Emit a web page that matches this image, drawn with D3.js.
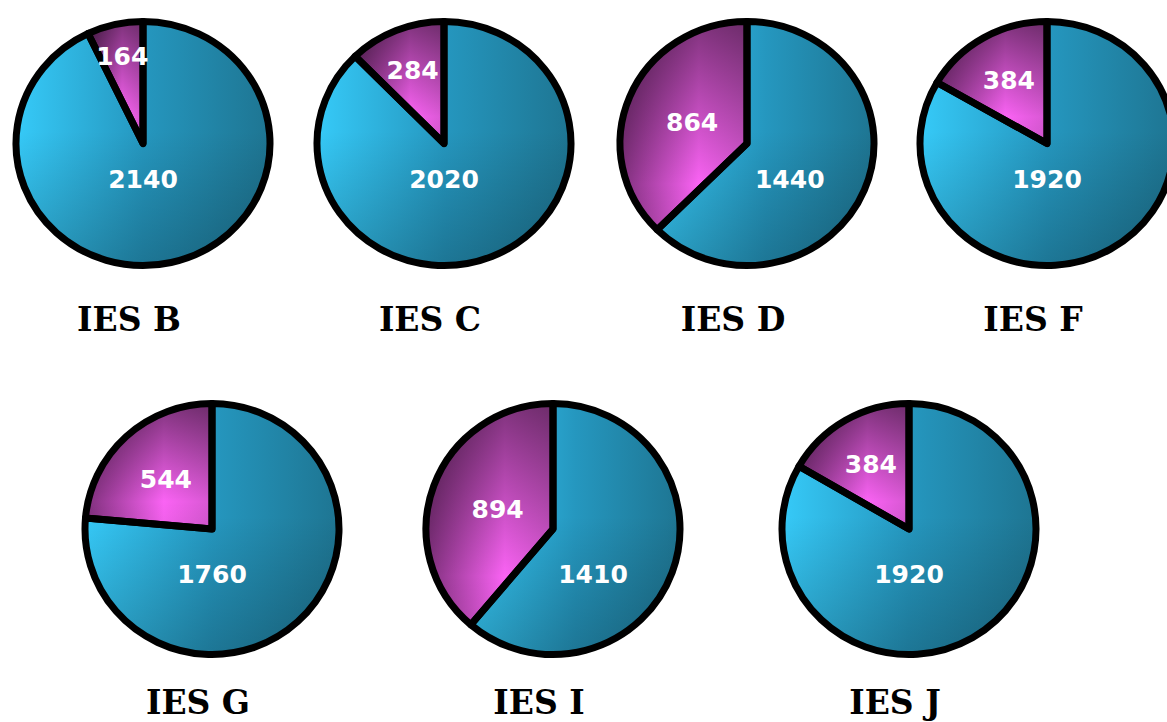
<!DOCTYPE html>
<html>
<head>
<meta charset="utf-8">
<script src="https://cdn.jsdelivr.net/npm/d3@7"></script>
<style>
  html, body { margin: 0; padding: 0; background: #ffffff; }
  svg { display: block; }
</style>
</head>
<body>
<div id="chart"></div>
<script>
// ---- data ----
const names = ["IES B", "IES C", "IES D", "IES F", "IES G", "IES I", "IES J"];
const blueValues = [2140, 2020, 1440, 1920, 1760, 1410, 1920];
const pinkValues = [164, 284, 864, 384, 544, 894, 384];

// ---- layout ----
const W = 1167, H = 722;
const R = 127;                         // base radius of arcs
const rows = [
  { idx: [0, 1, 2, 3], xs: [143, 444, 747, 1047], cy: 143.5, rx: 127, ry: 122, labelDy: 35, titleY: 331 },
  { idx: [4, 5, 6],    xs: [212, 553, 909],       cy: 529,   rx: 127, ry: 125.5, labelDy: 45, titleY: 714 }
];
const titleDx = -14;

const svg = d3.select("#chart").append("svg")
  .attr("width", W).attr("height", H)
  .attr("viewBox", `0 0 ${W} ${H}`);

const defs = svg.append("defs");
function lin(id, dir, stops) {
  const g = defs.append("linearGradient").attr("id", id)
    .attr("x1", 0).attr("y1", 0)
    .attr("x2", dir === "h" ? 1 : 0).attr("y2", dir === "h" ? 0 : 1);
  stops.forEach(s => g.append("stop").attr("offset", s[0])
    .attr("stop-color", s[1]).attr("stop-opacity", s[2] === undefined ? 1 : s[2]));
}
lin("blueH", "h", [[0, "#36CAF8"], [0.5, "#2597BF"], [1, "#1E7592"]]);
lin("blueV", "v", [[0, "#000", 0], [0.45, "#000", 0], [1, "#000", 0.22]]);
lin("pinkH", "h", [[0, "#7E2F7B"], [0.62, "#FA63F4"], [1, "#D757D2"]]);
lin("pinkV", "v", [[0, "#000", 0.5], [0.78, "#000", 0], [1, "#000", 0.05]]);

const pie = d3.pie().sort(null).value(d => d.value);
const arc = d3.arc().innerRadius(0).outerRadius(R);

rows.forEach(row => {
  row.idx.forEach((i, k) => {
    const cx = row.xs[k], cy = row.cy;
    const sx = row.rx / R, sy = row.ry / R;
    const data = [
      { key: "blue", value: blueValues[i] },
      { key: "pink", value: pinkValues[i] }
    ];
    const arcs = pie(data);
    const g = svg.append("g").attr("transform", `translate(${cx},${cy})`);
    const gs = g.append("g").attr("transform", `scale(${sx},${sy})`);

    gs.selectAll("path.base").data(arcs).join("path")
      .attr("class", "base")
      .attr("d", arc)
      .attr("fill", d => d.data.key === "blue" ? "url(#blueH)" : "url(#pinkH)");
    gs.selectAll("path.shade").data(arcs).join("path")
      .attr("class", "shade")
      .attr("d", arc)
      .attr("fill", d => d.data.key === "blue" ? "url(#blueV)" : "url(#pinkV)");
    gs.selectAll("path.edge").data(arcs).join("path")
      .attr("class", "edge")
      .attr("d", arc)
      .attr("fill", "none")
      .attr("stroke", "#000")
      .attr("stroke-width", 7)
      .attr("stroke-linejoin", "round")
      .attr("vector-effect", "non-scaling-stroke");

    // label positions
    arcs.forEach(a => {
      let lx, ly;
      if (a.data.key === "pink") {
        const mid = (a.startAngle + a.endAngle) / 2;
        const half = Math.min((a.endAngle - a.startAngle) / 2, Math.PI / 2);
        const r = 0.9 * R / (1 + Math.sin(half));
        lx = Math.sin(mid) * r * sx;
        ly = -Math.cos(mid) * r * sy;
      } else {
        // horizontal midpoint of the slice at a fixed height below the centre
        ly = row.labelDy;
        const yy = ly / sy;
        let minX = Infinity, maxX = -Infinity;
        for (let x = -R; x <= R; x += 0.5) {
          if (x * x + yy * yy > R * R) continue;
          let ang = Math.atan2(x, -yy);
          if (ang < 0) ang += 2 * Math.PI;
          if (ang >= a.startAngle && ang <= a.endAngle) {
            minX = Math.min(minX, x); maxX = Math.max(maxX, x);
          }
        }
        lx = (minX + maxX) / 2 * sx;
      }
      g.append("text")
        .attr("x", lx).attr("y", ly)
        .attr("dy", "0.36em")
        .attr("text-anchor", "middle")
        .attr("fill", "#ffffff")
        .attr("font-family", "'DejaVu Sans', Verdana, sans-serif")
        .attr("font-weight", "bold")
        .attr("font-size", 25)
        .text(a.data.value);
    });

    svg.append("text")
      .attr("x", cx + titleDx).attr("y", row.titleY)
      .attr("text-anchor", "middle")
      .attr("fill", "#000")
      .attr("font-family", "'DejaVu Serif', 'Liberation Serif', serif")
      .attr("font-weight", "bold")
      .attr("font-size", 33)
      .text(names[i]);
  });
});
</script>
</body>
</html>
